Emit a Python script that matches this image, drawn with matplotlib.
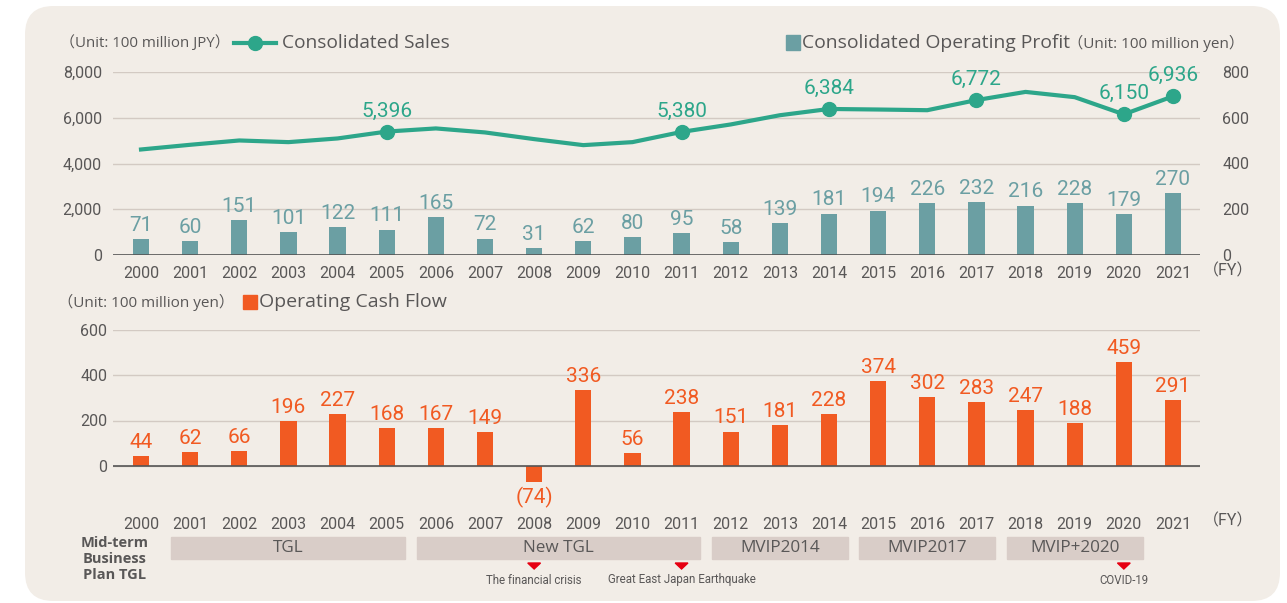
import matplotlib
matplotlib.use("Agg")
import matplotlib.pyplot as plt
from matplotlib.patches import FancyBboxPatch, Rectangle, Polygon
from matplotlib.lines import Line2D
from matplotlib.transforms import blended_transform_factory
import numpy as np

years = list(range(2000, 2022))
sales = [4613, 4818, 5007, 4934, 5095, 5396, 5533, 5358, 5066, 4803, 4934, 5380,
         5707, 6110, 6384, 6360, 6330, 6772, 7130, 6900, 6150, 6936]
sales_labeled = [2005, 2011, 2014, 2017, 2020, 2021]
profit = [71, 60, 151, 101, 122, 111, 165, 72, 31, 62, 80, 95,
          58, 139, 181, 194, 226, 232, 216, 228, 179, 270]
cash_flow = [44, 62, 66, 196, 227, 168, 167, 149, -74, 336, 56, 238,
             151, 181, 228, 374, 302, 283, 247, 188, 459, 291]

plans = [("TGL", 2001, 2005), ("New TGL", 2006, 2011), ("MVIP2014", 2012, 2014),
         ("MVIP2017", 2015, 2017), ("MVIP+2020", 2018, 2020)]
events = [("The financial crisis", 2008), ("Great East Japan Earthquake", 2011),
          ("COVID-19", 2020)]

BG = "#f2ede7"
GRID = "#d3cac3"
TXT = "#595757"
GREEN = "#2da68a"
TEAL = "#6b9fa3"
ORANGE = "#f15a22"
NARROW = ["Roboto", "Noto Sans CJK JP"]
SANS = ["Open Sans", "Noto Sans CJK JP"]

W, H = 1287, 603
fig = plt.figure(figsize=(W / 100, H / 100), dpi=100)
fig.patch.set_facecolor("white")

def fx(px):
    return px / W

def fy(py):
    return 1 - py / H

panel = FancyBboxPatch((fx(25), fy(601)), fx(1255), fy(6) - fy(601),
                       boxstyle="round,pad=0,rounding_size=0.022",
                       transform=fig.transFigure, facecolor=BG, edgecolor="none",
                       mutation_aspect=W / H, zorder=-5)
fig.patches.append(panel)

x = np.arange(len(years))
xl = (-0.57, len(years) - 1 + 0.55)

# ---- top chart
ax1 = fig.add_axes([fx(113), fy(255), fx(1200) - fx(113), fy(72) - fy(255)])
ax1.set_facecolor("none")
ax1.set_xlim(*xl)
ax1.set_ylim(0, 8000)
ax1.set_yticks([0, 2000, 4000, 6000, 8000])
ax1.set_yticklabels([f"{v:,}" for v in [0, 2000, 4000, 6000, 8000]],
                    family=NARROW, fontsize=11.5, color=TXT)
ax1.grid(axis="y", color=GRID, lw=1)
ax1.set_axisbelow(True)
ax1.set_xticks(x)
ax1.set_xticklabels(years, family=NARROW, fontsize=11.5, color=TXT)
ax1.tick_params(length=0, pad=8)
for s in ax1.spines.values():
    s.set_visible(False)

ax1r = ax1.twinx()
ax1r.set_ylim(0, 800)
ax1r.set_yticks([0, 200, 400, 600, 800])
ax1r.set_yticklabels([0, 200, 400, 600, 800], family=NARROW, fontsize=11.5, color=TXT)
ax1r.tick_params(length=0, pad=16)
for s in ax1r.spines.values():
    s.set_visible(False)
ax1r.bar(x, profit, width=0.33, color=TEAL, zorder=2)
ax1r.axhline(0, color="#555555", lw=1.2, zorder=3)
for xi, v in zip(x, profit):
    ax1r.annotate(str(v), (xi, v), xytext=(0, 3), textcoords="offset points",
                  ha="center", va="bottom", family=NARROW, fontsize=15, color=TEAL)

ax1s = ax1.twinx()
ax1s.set_ylim(0, 8000)
ax1s.axis("off")
ax1s.plot(x, sales, color=GREEN, lw=3, zorder=4, solid_joinstyle="round")
lab_idx = [years.index(yy) for yy in sales_labeled]
ax1s.plot(x[lab_idx], [sales[i] for i in lab_idx], "o", color=GREEN, ms=10, zorder=5)
for i in lab_idx:
    ax1s.annotate(f"{sales[i]:,}", (x[i], sales[i]), xytext=(0, 8), textcoords="offset points",
                  ha="center", va="bottom", family=NARROW, fontsize=15, color=GREEN)

fig.text(fx(1203), fy(271), "（FY）", family=NARROW, fontsize=11.5, color=TXT, va="center")

# top legends
fig.text(fx(60), fy(43), "（Unit: 100 million JPY）", family=SANS, fontsize=10.8, color=TXT, va="center")
fig.lines.append(Line2D([fx(234), fx(276)], [fy(43), fy(43)], color=GREEN, lw=3,
                        transform=fig.transFigure))
fig.lines.append(Line2D([fx(255)], [fy(43)], marker="o", ms=10, color=GREEN,
                        transform=fig.transFigure))
fig.text(fx(282), fy(43), "Consolidated Sales", family=SANS, fontsize=13.8, color=TXT, va="center")
fig.patches.append(Rectangle((fx(786), fy(50)), fx(14), fy(35) - fy(50), color=TEAL,
                             transform=fig.transFigure))
fig.text(fx(802), fy(43), "Consolidated Operating Profit", family=SANS, fontsize=13.9,
         color=TXT, va="center")
fig.text(fx(1068), fy(43), "（Unit: 100 million yen）", family=SANS, fontsize=11,
         color=TXT, va="center")

# ---- bottom chart
ax2 = fig.add_axes([fx(113), fy(511), fx(1200) - fx(113), fy(330) - fy(511)])
ax2.set_facecolor("none")
ax2.set_xlim(*xl)
ax2.set_ylim(-200, 600)
ax2.set_yticks([0, 200, 400, 600])
ax2.set_yticklabels([0, 200, 400, 600], family=NARROW, fontsize=11.5, color=TXT)
ax2.grid(axis="y", color=GRID, lw=1)
ax2.set_axisbelow(True)
ax2.set_xticks(x)
ax2.set_xticklabels(years, family=NARROW, fontsize=11.5, color=TXT)
ax2.tick_params(length=0, pad=4)
for s in ax2.spines.values():
    s.set_visible(False)
ax2.bar(x, cash_flow, width=0.33, color=ORANGE, zorder=2)
ax2.axhline(0, color="#555555", lw=1.2, zorder=3)
for xi, v in zip(x, cash_flow):
    if v >= 0:
        ax2.annotate(str(v), (xi, v), xytext=(0, 3), textcoords="offset points",
                     ha="center", va="bottom", family=NARROW, fontsize=15, color=ORANGE)
    else:
        ax2.annotate(f"({-v})", (xi, v), xytext=(0, -3), textcoords="offset points",
                     ha="center", va="top", family=NARROW, fontsize=15, color=ORANGE)

fig.text(fx(1203), fy(521), "（FY）", family=NARROW, fontsize=11.5, color=TXT, va="center")
fig.text(fx(58), fy(302), "（Unit: 100 million yen）", family=SANS, fontsize=11, color=TXT, va="center")
fig.patches.append(Rectangle((fx(243), fy(309)), fx(14), fy(295) - fy(309), color=ORANGE,
                             transform=fig.transFigure))
fig.text(fx(259), fy(302), "Operating Cash Flow", family=SANS, fontsize=14, color=TXT, va="center")

# ---- plan bands
bt = blended_transform_factory(ax2.transData, fig.transFigure)
for name, y0, y1 in plans:
    i0, i1 = years.index(y0), years.index(y1)
    fig.patches.append(Rectangle((i0 - 0.38, fy(559)), (i1 - i0) + 0.76, fy(537) - fy(559),
                                 color="#d9cdc8", transform=bt))
    fig.text((i0 + i1) / 2, fy(548), name, transform=bt, ha="center", va="center",
             family=SANS, fontsize=12.3, color=TXT)
for name, yy in events:
    i = years.index(yy)
    fig.patches.append(Polygon([(i - 0.13, fy(563)), (i + 0.13, fy(563)), (i, fy(569))],
                               closed=True, color="#e60012", transform=bt))
    fig.text(i, fy(580), name, transform=bt, ha="center", va="center",
             family=NARROW, fontsize=8.3, color=TXT)
fig.text(fx(115), fy(559), "Mid-term\nBusiness\nPlan TGL", ha="center", va="center",
         family=SANS, fontsize=10.5, fontweight="bold", color=TXT, linespacing=1.15)

fig.savefig("out.png", dpi=100, facecolor="white")
